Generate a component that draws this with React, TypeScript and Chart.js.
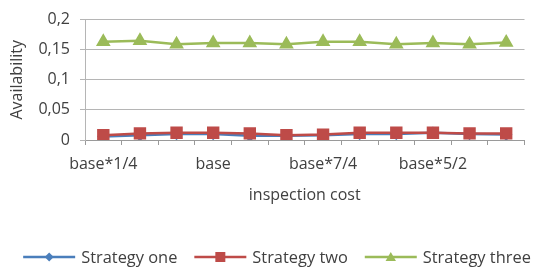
import React, { useEffect, useRef } from 'react';
import { Chart, registerables } from 'chart.js';

Chart.register(...registerables);

const categories = ['base*1/4', 'base*2/4', 'base*3/4', 'base', 'base*5/4', 'base*6/4', 'base*7/4', 'base*8/4', 'base*9/4', 'base*5/2', 'base*11/4', 'base*3'];
const strategyOne = [0.006, 0.008, 0.010, 0.010, 0.007, 0.007, 0.008, 0.010, 0.010, 0.012, 0.010, 0.009];
const strategyTwo = [0.008, 0.011, 0.012, 0.012, 0.011, 0.008, 0.009, 0.012, 0.012, 0.012, 0.011, 0.011];
const strategyThree = [0.163, 0.165, 0.159, 0.161, 0.161, 0.159, 0.163, 0.163, 0.159, 0.161, 0.159, 0.162];
const yTicks = [0, 0.05, 0.1, 0.15, 0.2];
const seriesNames = ['Strategy one', 'Strategy two', 'Strategy three'];

const BLUE = '#4a7ebb';
const RED = '#be4b48';
const GREEN = '#9bbb59';
const TEXT = '#404040';
const GRID = '#b5b5b5';
const FONT = '"Open Sans", sans-serif';

function drawMarker(ctx: CanvasRenderingContext2D, style: string, cx: number, cy: number, color: string) {
  ctx.fillStyle = color;
  ctx.beginPath();
  if (style === 'rectRot') {
    ctx.moveTo(cx, cy - 4.5);
    ctx.lineTo(cx + 4.5, cy);
    ctx.lineTo(cx, cy + 4.5);
    ctx.lineTo(cx - 4.5, cy);
  } else if (style === 'rect') {
    ctx.rect(cx - 5, cy - 5, 10, 10);
  } else {
    ctx.moveTo(cx, cy - 5);
    ctx.lineTo(cx + 5.2, cy + 4);
    ctx.lineTo(cx - 5.2, cy + 4);
  }
  ctx.closePath();
  ctx.fill();
}

export default function App() {
  const ref = useRef<HTMLCanvasElement | null>(null);

  useEffect(() => {
    if (!ref.current) return;
    const colors = [BLUE, RED, GREEN];
    const styles = ['rectRot', 'rect', 'triangle'];

    const customLegend = {
      id: 'customLegend',
      afterDraw(chart: any) {
        const ctx: CanvasRenderingContext2D = chart.ctx;
        ctx.save();
        ctx.font = `16.4px ${FONT}`;
        ctx.textBaseline = 'middle';
        ctx.textAlign = 'left';
        const lineLen = 52;
        const textGap = 6;
        const itemGap = 17;
        const widths = seriesNames.map((n) => ctx.measureText(n).width);
        const total = widths.reduce((a, w) => a + lineLen + textGap + w, 0) + itemGap * (seriesNames.length - 1);
        let x = 277 - total / 2;
        const y = 257;
        seriesNames.forEach((name, i) => {
          ctx.strokeStyle = colors[i];
          ctx.lineWidth = 2.5;
          ctx.beginPath();
          ctx.moveTo(x, y);
          ctx.lineTo(x + lineLen, y);
          ctx.stroke();
          drawMarker(ctx, styles[i], x + lineLen / 2, y, colors[i]);
          ctx.fillStyle = TEXT;
          ctx.fillText(name, x + lineLen + textGap, y + 1);
          x += lineLen + textGap + widths[i] + itemGap;
        });
        ctx.restore();
      },
    };

    const chart = new Chart(ref.current, {
      type: 'line',
      data: {
        labels: categories,
        datasets: [
          {
            label: seriesNames[0],
            data: strategyOne,
            borderColor: BLUE,
            backgroundColor: BLUE,
            pointStyle: 'rectRot',
            pointRadius: 4.5,
            borderWidth: 2.5,
            order: 3,
          },
          {
            label: seriesNames[1],
            data: strategyTwo,
            borderColor: RED,
            backgroundColor: RED,
            pointStyle: 'rect',
            pointRadius: 7,
            borderWidth: 2.5,
            order: 2,
          },
          {
            label: seriesNames[2],
            data: strategyThree,
            borderColor: GREEN,
            backgroundColor: GREEN,
            pointStyle: 'triangle',
            pointRadius: 6,
            borderWidth: 2.5,
            order: 1,
          },
        ],
      },
      options: {
        animation: false,
        responsive: true,
        maintainAspectRatio: false,
        devicePixelRatio: 1,
        layout: { padding: { top: 19, left: 6, right: 2, bottom: 46 } },
        plugins: {
          tooltip: { enabled: false },
          legend: { display: false },
        },
        scales: {
          x: {
            type: 'category',
            offset: true,
            grid: {
              offset: true,
              drawOnChartArea: false,
              drawTicks: true,
              tickLength: 5,
              color: '#9a9a9a',
            },
            border: { display: true, color: '#9a9a9a', width: 1 },
            ticks: {
              autoSkip: false,
              maxRotation: 0,
              minRotation: 0,
              padding: 10,
              color: TEXT,
              font: { family: FONT, size: 16 },
              callback: (_v: any, i: number) => (i % 3 === 0 ? categories[i] : ''),
            },
            title: {
              display: true,
              text: 'inspection cost',
              color: TEXT,
              font: { family: FONT, size: 16 },
              padding: { top: 0, bottom: 16 },
            },
            afterFit: (scale: any) => {
              scale.height = 81;
            },
          },
          y: {
            min: 0,
            max: 0.2,
            grid: { color: GRID, tickLength: 5, drawTicks: true },
            border: { display: true, color: GRID },
            afterBuildTicks: (scale: any) => {
              scale.ticks = yTicks.map((v) => ({ value: v }));
            },
            ticks: {
              autoSkip: false,
              padding: 10,
              color: TEXT,
              font: { family: FONT, size: 16 },
              callback: (v: any) => String(Number(Number(v).toFixed(2))).replace('.', ','),
            },
            title: {
              display: true,
              text: 'Availability',
              color: TEXT,
              font: { family: FONT, size: 16 },
              padding: { top: 2, bottom: 0 },
            },
            afterFit: (scale: any) => {
              scale.width = 79;
            },
          },
        },
      },
      plugins: [customLegend],
    } as any);

    return () => chart.destroy();
  }, []);

  return (
    <div style={{ position: 'fixed', left: 0, top: 0, width: 534, height: 267, background: '#fff' }}>
      <canvas ref={ref} />
    </div>
  );
}
